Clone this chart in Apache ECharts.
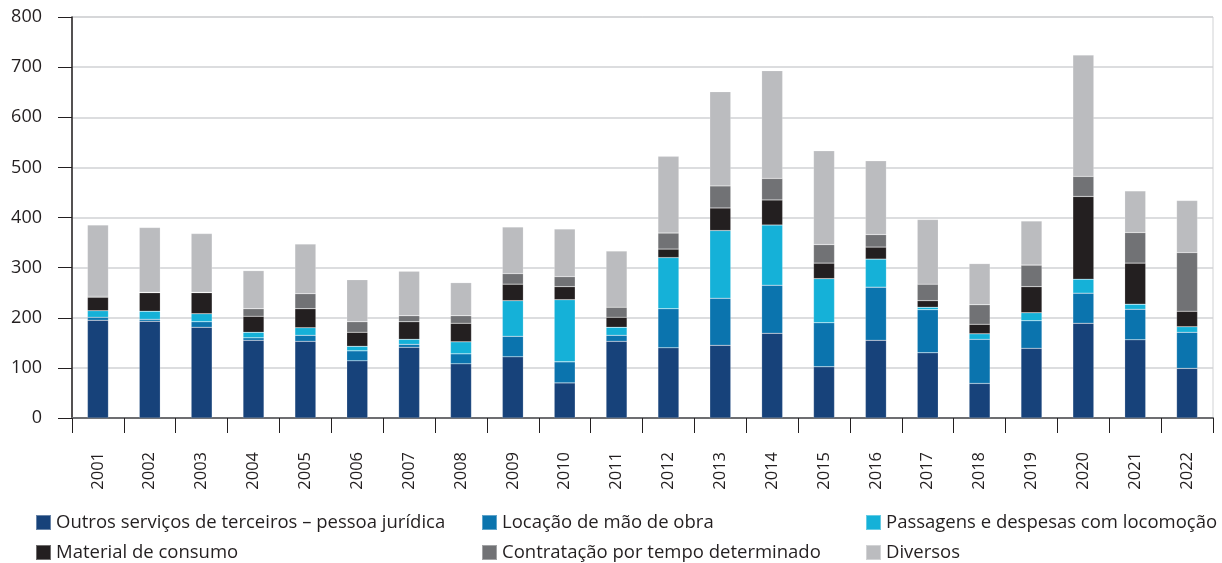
<!DOCTYPE html>
<html lang="pt">
<head>
<meta charset="UTF-8">
<title>Despesas</title>
<style>
  html, body { margin: 0; padding: 0; background: #fff; }
  #chart { width: 1222px; height: 563px; }
</style>
</head>
<body>
<div id="chart"></div>
<script src="https://cdn.jsdelivr.net/npm/echarts@6/dist/echarts.min.js"></script>
<script>
// anos
var years = ['2001', '2002', '2003', '2004', '2005', '2006', '2007', '2008', '2009', '2010', '2011',
  '2012', '2013', '2014', '2015', '2016', '2017', '2018', '2019', '2020', '2021', '2022'];

// valores
var outrosServicos = [195, 193, 181, 155, 153, 114, 141, 108, 122, 70, 153, 140, 145, 169, 102, 155, 130, 69, 139, 189, 156, 99];
var locacaoMaoObra = [6, 4, 11, 5, 12, 20, 6, 20, 41, 42, 12, 78, 94, 96, 88, 106, 86, 88, 55, 60, 61, 72];
var passagens = [13, 16, 16, 11, 15, 9, 10, 24, 71, 124, 16, 102, 135, 120, 88, 56, 5, 11, 16, 28, 10, 11];
var materialConsumo = [27, 37, 42, 32, 38, 28, 35, 37, 33, 26, 20, 17, 45, 50, 31, 24, 13, 19, 52, 165, 82, 31];
var contratacao = [2, 1, 1, 15, 30, 21, 12, 15, 21, 20, 20, 32, 44, 43, 37, 25, 33, 39, 43, 40, 61, 117];
var diversos = [142, 129, 117, 76, 99, 84, 89, 66, 93, 95, 112, 153, 188, 215, 187, 147, 129, 82, 88, 242, 83, 104];

var yTicks = { min: 0, max: 800, interval: 100 };

var seriesDefs = [
  { name: 'Outros serviços de terceiros – pessoa jurídica', data: outrosServicos, color: '#17427a' },
  { name: 'Locação de mão de obra', data: locacaoMaoObra, color: '#0b74ae' },
  { name: 'Passagens e despesas com locomoção', data: passagens, color: '#15b1d8' },
  { name: 'Material de consumo', data: materialConsumo, color: '#231f20' },
  { name: 'Contratação por tempo determinado', data: contratacao, color: '#717275' },
  { name: 'Diversos', data: diversos, color: '#bbbcbf' }
];

var chart = echarts.init(document.getElementById('chart'));

// uma legenda por item: 2 linhas x 3 colunas
var legendCols = [35, 481, 865];
var legendRows = [513, 543];
var legends = seriesDefs.map(function (s, i) {
  return {
    left: legendCols[i % 3],
    top: legendRows[Math.floor(i / 3)],
    padding: 0,
    itemWidth: 15,
    itemHeight: 15,
    icon: 'rect',
    selectedMode: false,
    textStyle: { fontFamily: 'Open Sans', fontSize: 18.5, lineHeight: 15, color: '#231f20' },
    data: [s.name]
  };
});

var option = {
  animation: false,
  grid: {
    left: 72, right: 9, top: 17, bottom: 145,
    show: true, borderColor: '#d1d2d4', borderWidth: 1
  },
  legend: legends,
  xAxis: {
    type: 'category',
    data: years,
    axisLine: { lineStyle: { color: '#6d6e71', width: 2 } },
    axisTick: { show: true, length: 15, lineStyle: { color: '#231f20', width: 1 } },
    axisLabel: {
      rotate: 90, margin: 34, fontFamily: 'Open Sans', fontSize: 16.5, fontWeight: 500, color: '#231f20'
    }
  },
  yAxis: {
    type: 'value',
    min: yTicks.min, max: yTicks.max, interval: yTicks.interval,
    axisLine: { show: true, lineStyle: { color: '#231f20', width: 1.5 } },
    axisTick: { show: true, length: 14, lineStyle: { color: '#231f20' } },
    axisLabel: { margin: 30, fontFamily: 'Open Sans', fontSize: 18, color: '#231f20' },
    splitLine: { lineStyle: { color: '#d1d2d4', width: 1.5 } }
  },
  series: seriesDefs.map(function (s) {
    return {
      name: s.name,
      type: 'bar',
      stack: 'total',
      barWidth: 21,
      data: s.data,
      itemStyle: { color: s.color, borderColor: 'rgba(255,255,255,0.35)', borderWidth: 0.5 }
    };
  })
};

chart.setOption(option);
</script>
</body>
</html>
